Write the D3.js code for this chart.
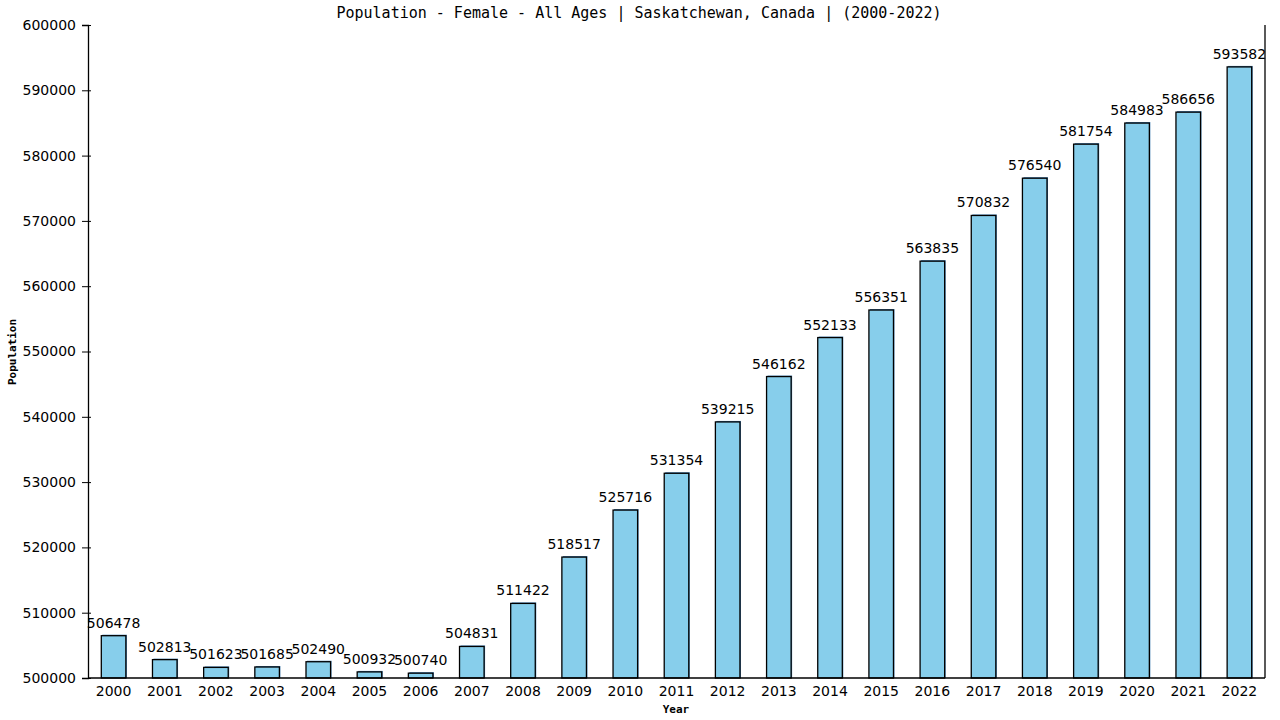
<!DOCTYPE html>
<html><head><meta charset="utf-8">
<script src="https://cdn.jsdelivr.net/npm/d3@7"></script>
<style>body{margin:0;background:#fff}svg{display:block}</style>
</head><body>
<script>
const years = ["2000","2001","2002","2003","2004","2005","2006","2007","2008","2009","2010","2011","2012","2013","2014","2015","2016","2017","2018","2019","2020","2021","2022"];
const population = [506478,502813,501623,501685,502490,500932,500740,504831,511422,518517,525716,531354,539215,546162,552133,556351,563835,570832,576540,581754,584983,586656,593582];
const yTicks = [500000,510000,520000,530000,540000,550000,560000,570000,580000,590000,600000];
const title = "Population - Female - All Ages | Saskatchewan, Canada |  (2000-2022)";

const W = 1280, H = 720;
const m = {left: 88, right: 15, top: 25, bottom: 42};
const svg = d3.select("body").append("svg").attr("width", W).attr("height", H);

const x = d3.scaleBand().domain(years).range([m.left, W - m.right]).paddingInner(0.52).paddingOuter(0.26);
const y = d3.scaleLinear().domain([500000, 600000]).range([H - m.bottom, m.top]);

const numFont = "DejaVu Sans, Verdana, sans-serif";
const monoFont = "DejaVu Sans Mono, monospace";

// bars: shadow, fill, outline
const g = svg.append("g");
g.selectAll("rect.sh").data(population).join("rect")
  .attr("x", (d,i) => x(years[i]) + 1).attr("y", d => y(d) - 1)
  .attr("width", x.bandwidth()).attr("height", d => y(500000) - y(d) + 1)
  .attr("fill", "#4682B4");
g.selectAll("rect.b").data(population).join("rect")
  .attr("x", (d,i) => x(years[i])).attr("y", d => y(d))
  .attr("width", x.bandwidth()).attr("height", d => y(500000) - y(d))
  .attr("fill", "#87CEEB").attr("stroke", "#000").attr("stroke-width", 1.3);

g.selectAll("text.v").data(population).join("text")
  .attr("x", (d,i) => x(years[i]) + x.bandwidth()/2).attr("y", d => y(d) - 8)
  .attr("text-anchor", "middle").attr("font-family", numFont).attr("font-size", 14)
  .attr("fill", "#000").text(d => d);

// y axis
const ya = svg.append("g").attr("transform", `translate(${m.left},0)`)
  .call(d3.axisLeft(y).tickValues(yTicks).tickSize(6).tickPadding(6).tickFormat(d => d));
ya.select(".domain").attr("stroke", "#000").attr("stroke-width", 1.3);
ya.selectAll(".tick line").attr("stroke", "#000").attr("x2", -6).attr("x1", 3);
ya.selectAll(".tick text").attr("font-family", numFont).attr("font-size", 14).attr("fill", "#000").attr("x", -12);

// x axis
const xa = svg.append("g").attr("transform", `translate(0,${H - m.bottom})`)
  .call(d3.axisBottom(x).tickSize(0).tickPadding(8));
xa.select(".domain").remove();
xa.selectAll(".tick text").attr("font-family", numFont).attr("font-size", 14).attr("fill", "#000");
svg.append("line").attr("x1", m.left).attr("x2", W - m.right).attr("y1", H - m.bottom).attr("y2", H - m.bottom)
  .attr("stroke", "#000").attr("stroke-width", 1.3);
svg.append("line").attr("x1", W - m.right).attr("x2", W - m.right).attr("y1", m.top).attr("y2", H - m.bottom)
  .attr("stroke", "#000").attr("stroke-width", 1.3);

// title & labels
svg.append("text").attr("x", 639).attr("y", 18).attr("text-anchor", "middle")
  .attr("font-family", monoFont).attr("font-size", 15).text(title);
svg.append("text").attr("x", 676).attr("y", 713).attr("text-anchor", "middle")
  .attr("font-family", monoFont).attr("font-size", 11).attr("font-weight", "bold").text("Year");
svg.append("text").attr("transform", "translate(16,352) rotate(-90)").attr("text-anchor", "middle")
  .attr("font-family", monoFont).attr("font-size", 11).attr("font-weight", "bold").text("Population");
</script>
</body></html>
